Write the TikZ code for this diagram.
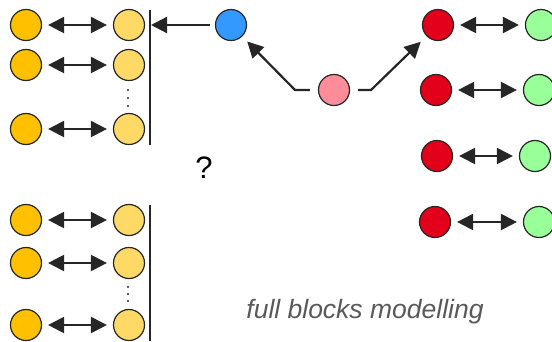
\documentclass[tikz,border=0pt]{standalone}
\usepackage{fontspec}
\setmainfont{Liberation Sans}
\usetikzlibrary{arrows.meta}
\definecolor{ink}{HTML}{262626}
\definecolor{gold}{HTML}{FFC000}
\definecolor{sand}{HTML}{FFD966}
\definecolor{sky}{HTML}{3399FF}
\definecolor{rose}{HTML}{FF8C99}
\definecolor{crimson}{HTML}{E2001A}
\definecolor{mint}{HTML}{99FF99}
\definecolor{textgray}{HTML}{595959}
\tikzset{
  ball/.style={circle,draw=ink,line width=1.2pt,minimum size=31pt,inner sep=0pt},
  link/.style={ink,line width=2.2pt,>={Triangle[length=16pt,width=16pt]}},
  pair/.style={link,<->,shorten <=6pt,shorten >=6pt},
  dot/.style={fill=ink,circle,inner sep=0pt,minimum size=2.4pt}
}

\begin{document}
\begin{tikzpicture}[x=1pt,y=-1pt]
\useasboundingbox (0,0) rectangle (552,341);

\node[ball,fill=gold] (a1) at (26,25) {};
\node[ball,fill=gold] (a2) at (26,65) {};
\node[ball,fill=gold] (a3) at (26,129) {};
\node[ball,fill=sand] (b1) at (129,25) {};
\node[ball,fill=sand] (b2) at (129,65) {};
\node[ball,fill=sand] (b3) at (129,129) {};
\draw[pair] (a1) -- (b1);
\draw[pair] (a2) -- (b2);
\draw[pair] (a3) -- (b3);
\node[dot] at (128,90) {};
\node[dot] at (128,98) {};
\node[dot] at (128,106) {};
\draw[ink,line width=1.2pt] (150,10) coordinate (bartop) -- (150,145);

\node[ball,fill=gold] (c1) at (26,220) {};
\node[ball,fill=gold] (c2) at (26,263) {};
\node[ball,fill=gold] (c3) at (26,325) {};
\node[ball,fill=sand] (d1) at (129,220) {};
\node[ball,fill=sand] (d2) at (129,263) {};
\node[ball,fill=sand] (d3) at (129,325) {};
\draw[pair] (c1) -- (d1);
\draw[pair] (c2) -- (d2);
\draw[pair] (c3) -- (d3);
\node[dot] at (128,287) {};
\node[dot] at (128,294) {};
\node[dot] at (128,301) {};
\draw[ink,line width=1.2pt] (150,205) -- (150,341);

\node[ball,fill=sky] (top) at (231,25) {};
\node[ball,fill=rose] (root) at (334,90) {};
\coordinate (hit) at (151,25);
\coordinate (kl) at (295,90);
\coordinate (kr) at (371,90);
\draw[link,->,shorten <=5pt] (top) -- (hit);
\draw[link,->,shorten <=8pt,shorten >=7pt] (root) -- (kl) -- (top);

\node[ball,fill=crimson] (r1) at (438,25) {};
\node[ball,fill=crimson] (r2) at (436,90) {};
\node[ball,fill=crimson] (r3) at (437,156) {};
\node[ball,fill=crimson] (r4) at (435,222) {};
\node[ball,fill=mint] (g1) at (541,25) {};
\node[ball,fill=mint] (g2) at (539,90) {};
\node[ball,fill=mint] (g3) at (535,156) {};
\node[ball,fill=mint] (g4) at (539,222) {};
\draw[pair] (r1) -- (g1);
\draw[pair] (r2) -- (g2);
\draw[pair] (r3) -- (g3);
\draw[pair] (r4) -- (g4);
\draw[link,->,shorten <=8pt,shorten >=8pt] (root) -- (kr) -- (r1);

\node[font=\fontsize{31}{37}\selectfont] (ask) at (204,168) {?};
\node[anchor=base,text=textgray,font=\fontsize{26.5}{32}\selectfont\itshape] (note) at (365,318) {full blocks modelling};
\end{tikzpicture}
\end{document}
